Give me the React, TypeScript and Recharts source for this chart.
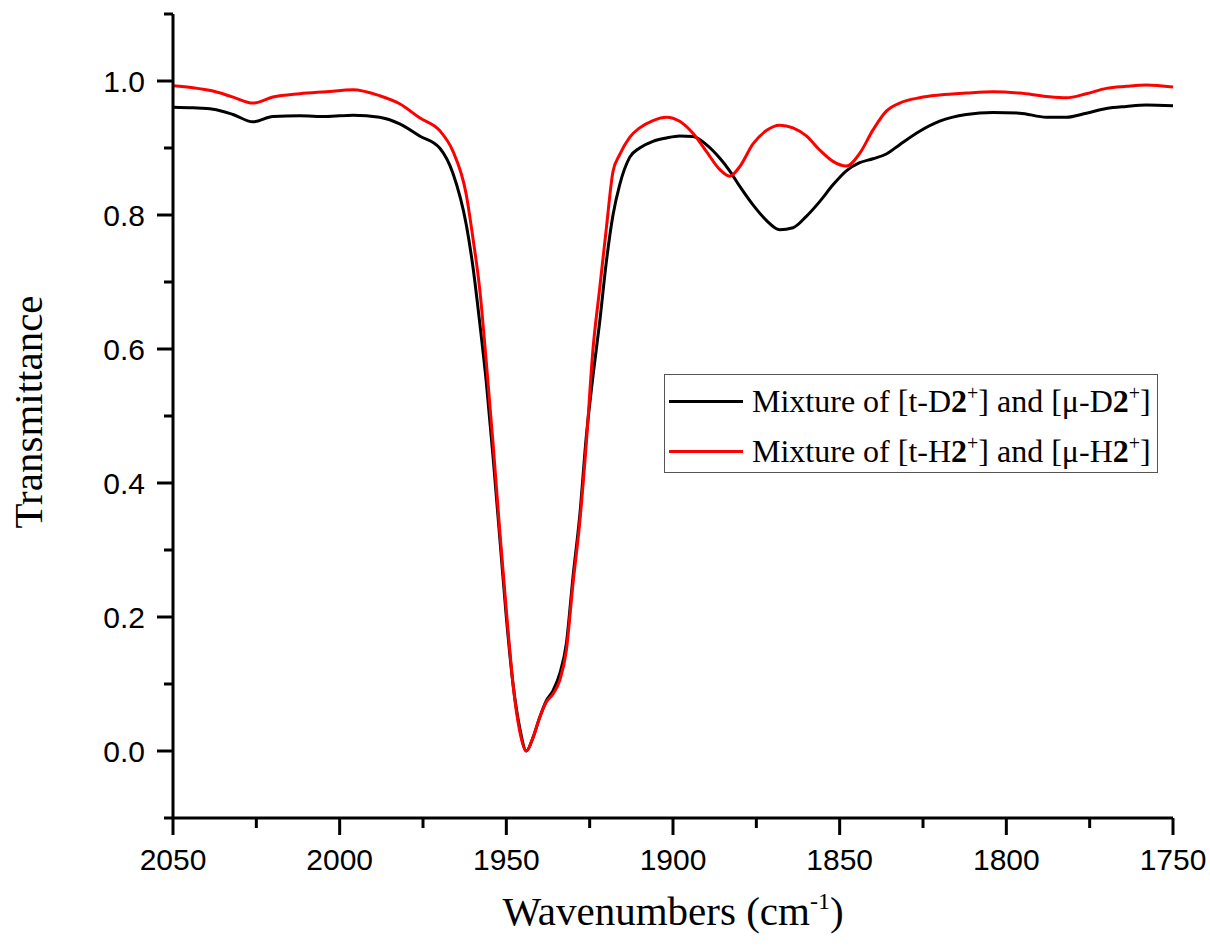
import React from "react";
import { LineChart, Line, XAxis, YAxis, Legend, Label } from "recharts";

// wavenumber grid (cm-1)
const wavenumbers = [
  2050, 2044, 2038, 2032, 2026, 2020, 2012, 2004, 1996, 1988, 1982, 1976, 1970, 1966, 1962, 1960,
  1958, 1956, 1954, 1952, 1950, 1948, 1946, 1944, 1942, 1940, 1938, 1936, 1934, 1932, 1930, 1928,
  1926, 1924, 1922, 1920, 1918, 1916, 1913, 1910, 1906, 1902, 1898, 1894, 1890, 1886, 1883, 1880,
  1876, 1872, 1868, 1864, 1860, 1856, 1852, 1848, 1844, 1840, 1836, 1832, 1826, 1820, 1812, 1804,
  1796, 1788, 1782, 1776, 1770, 1764, 1758, 1750,
];

// Mixture of [t-D2+] and [mu-D2+]
const mixtureD = [
  0.961, 0.96, 0.958, 0.95, 0.939, 0.947, 0.948, 0.947, 0.949, 0.946, 0.936, 0.918, 0.9, 0.862, 0.785, 0.722,
  0.64, 0.55, 0.44, 0.32, 0.2, 0.1, 0.035, 0.0, 0.02, 0.05, 0.075, 0.09, 0.115, 0.16, 0.26, 0.35,
  0.47, 0.56, 0.64, 0.73, 0.8, 0.845, 0.886, 0.9, 0.91, 0.915, 0.918, 0.917, 0.905, 0.885, 0.866, 0.843,
  0.815, 0.792, 0.778, 0.781, 0.798, 0.82, 0.845, 0.866, 0.878, 0.884, 0.891, 0.905, 0.925, 0.94, 0.95, 0.953,
  0.952, 0.946, 0.946, 0.952, 0.959, 0.962, 0.964, 0.963,
];

// Mixture of [t-H2+] and [mu-H2+]
const mixtureH = [
  0.993, 0.99, 0.985, 0.976, 0.967, 0.976, 0.981, 0.984, 0.987, 0.978, 0.966, 0.945, 0.926, 0.895, 0.83, 0.765,
  0.69, 0.58, 0.46, 0.33, 0.21, 0.1, 0.03, 0.0, 0.02, 0.05, 0.073, 0.085, 0.105, 0.15, 0.25, 0.34,
  0.46, 0.6, 0.69, 0.78, 0.865, 0.89, 0.916, 0.93, 0.941, 0.946, 0.94, 0.922, 0.895, 0.868, 0.858, 0.872,
  0.906, 0.926, 0.934, 0.93, 0.918, 0.897, 0.88, 0.873, 0.892, 0.927, 0.955, 0.967, 0.975, 0.979, 0.982, 0.984,
  0.982, 0.977, 0.975, 0.981, 0.989, 0.992, 0.994, 0.991,
];

const xMajorTicks = [2050, 2000, 1950, 1900, 1850, 1800, 1750];
const xMinorTicks = [2025, 1975, 1925, 1875, 1825, 1775];
const yMajorTicks = [0, 0.2, 0.4, 0.6, 0.8, 1.0];
const yMinorTicks = [-0.1, 0.1, 0.3, 0.5, 0.7, 0.9, 1.1];

const data = wavenumbers.map((w, i) => ({ w, d: mixtureD[i], h: mixtureH[i] }));

const SANS = "'Liberation Sans', Arial, sans-serif";
const SERIF = "'Liberation Serif', 'Times New Roman', serif";

const XTick = ({ x, y, payload }: any) => {
  const major = xMajorTicks.includes(payload.value);
  return (
    <g>
      <line x1={x} x2={x} y1={y} y2={y + (major ? 17 : 10)} stroke="#000" strokeWidth={3} />
      {major && (
        <text x={x} y={y + 52} textAnchor="middle" fontSize={30} fontFamily={SANS} fill="#000">
          {payload.value}
        </text>
      )}
    </g>
  );
};

const YTick = ({ x, y, payload }: any) => {
  const v = payload.value;
  const major = yMajorTicks.some((t) => Math.abs(t - v) < 1e-6);
  return (
    <g>
      <line x1={x - (major ? 16 : 9)} x2={x} y1={y} y2={y} stroke="#000" strokeWidth={3} />
      {major && (
        <text x={x - 28} y={y} textAnchor="end" dominantBaseline="central" fontSize={30} fontFamily={SANS} fill="#000">
          {v.toFixed(1)}
        </text>
      )}
    </g>
  );
};

const legendRows = [
  { color: "#000000", iso: "D" },
  { color: "#ff0000", iso: "H" },
];

const LegendBox = () => (
  <div
    style={{
      width: 494,
      height: 99,
      boxSizing: "border-box",
      border: "1.5px solid #555",
      background: "#fff",
      fontFamily: SERIF,
      fontSize: 32,
      color: "#000",
      paddingTop: 1,
      overflow: "visible",
    }}
  >
    {legendRows.map((r) => (
      <div key={r.iso} style={{ display: "flex", alignItems: "center", height: 50, lineHeight: "50px" }}>
        <div style={{ width: 74, height: 3, background: r.color, marginLeft: 4, marginRight: 9 }} />
        <span style={{ whiteSpace: "nowrap" }}>
          Mixture of [t-{r.iso}
          <b>2</b>
          <sup style={{ fontSize: 20, lineHeight: 0 }}>+</sup>] and [μ-{r.iso}
          <b>2</b>
          <sup style={{ fontSize: 20, lineHeight: 0 }}>+</sup>]
        </span>
      </div>
    ))}
  </div>
);

export default function App() {
  return (
    <div style={{ position: "absolute", left: 0, top: 0, width: 1210, height: 951, background: "#fff" }}>
      <LineChart width={1210} height={951} data={data} margin={{ top: 14, right: 37, bottom: 0, left: 0 }}>
        <XAxis
          dataKey="w"
          type="number"
          domain={[1750, 2050]}
          reversed
          ticks={[...xMajorTicks, ...xMinorTicks].sort((a, b) => b - a)}
          interval={0}
          tickLine={false}
          tickSize={0}
          tickMargin={0}
          tick={<XTick />}
          axisLine={{ stroke: "#000", strokeWidth: 3 }}
          height={133}
        >
          <Label
            content={({ viewBox }: any) => (
              <text
                x={viewBox.x + viewBox.width / 2}
                y={viewBox.y + 107}
                textAnchor="middle"
                fontSize={41}
                fontFamily={SERIF}
                fill="#000"
              >
                <tspan>Wavenumbers (cm</tspan>
                <tspan dy={-16} fontSize={24}>-1</tspan>
                <tspan dy={16}>)</tspan>
              </text>
            )}
          />
        </XAxis>
        <YAxis
          type="number"
          domain={[-0.1, 1.1]}
          ticks={[...yMinorTicks, ...yMajorTicks].sort((a, b) => a - b)}
          interval={0}
          tickLine={false}
          tickSize={0}
          tickMargin={0}
          tick={<YTick />}
          axisLine={{ stroke: "#000", strokeWidth: 3 }}
          width={173}
        >
          <Label
            content={({ viewBox }: any) => (
              <text
                x={42}
                y={viewBox.y + viewBox.height / 2 - 4}
                transform={`rotate(-90, 42, ${viewBox.y + viewBox.height / 2 - 4})`}
                textAnchor="middle"
                fontSize={41}
                fontFamily={SERIF}
                fill="#000"
              >
                Transmittance
              </text>
            )}
          />
        </YAxis>
        <Legend
          layout="vertical"
          align="center"
          verticalAlign="middle"
          wrapperStyle={{ left: 664, top: 374, width: 494, height: 99 }}
          content={<LegendBox />}
        />
        <Line type="monotone" dataKey="d" name="D" stroke="#000000" strokeWidth={3} dot={false} isAnimationActive={false} />
        <Line type="monotone" dataKey="h" name="H" stroke="#ff0000" strokeWidth={3} dot={false} isAnimationActive={false} />
      </LineChart>
    </div>
  );
}
